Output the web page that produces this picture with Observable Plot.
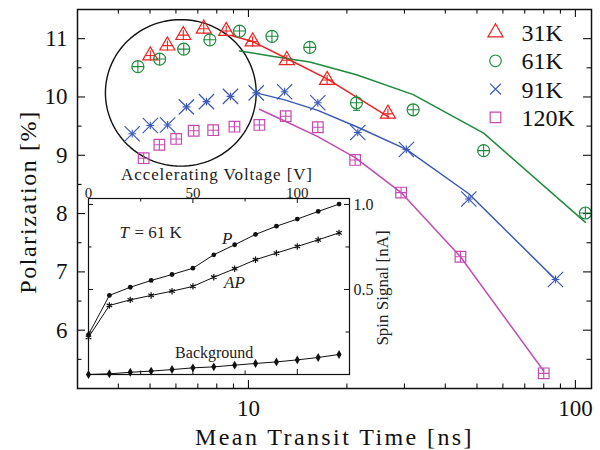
<!DOCTYPE html>
<html><head><meta charset="utf-8">
<script src="https://cdn.jsdelivr.net/npm/d3@7"></script>
<script src="https://cdn.jsdelivr.net/npm/@observablehq/plot@0.6"></script>
<style>
body{margin:0;background:#fff;}
#wrap{position:relative;width:600px;height:450px;overflow:hidden;}
#wrap svg{position:absolute;overflow:visible;}
#wrap svg text{font-family:"Liberation Serif","Times New Roman",serif !important;}
</style></head><body><div id="wrap"></div>
<script>
// ---------- main chart data (Mean Transit Time [ns] vs Polarization [%]) ----------
const labels = ["31K", "61K", "91K", "120K"];

const t31 = [5.01, 5.65, 6.32, 7.30, 8.55, 10.3, 13.1, 17.4, 26.7];
const p31 = [10.71, 10.88, 11.06, 11.17, 11.13, 10.95, 10.63, 10.29, 9.71];
const fitT31 = [8.9, 10.3, 13.1, 17.4, 26.8];
const fitP31 = [11.05, 10.95, 10.66, 10.31, 9.66];

const t61 = [4.59, 5.35, 6.34, 7.62, 9.39, 11.8, 15.4, 21.4, 31.9, 52.4, 107.3];
const p61 = [10.52, 10.65, 10.82, 10.98, 11.13, 11.04, 10.85, 9.90, 9.78, 9.08, 8.01];
const fitT61 = [9.39, 11.8, 15.4, 21.4, 31.9, 52.4, 107.3];
const fitP61 = [10.79, 10.70, 10.60, 10.38, 10.04, 9.38, 7.85];
const err61 = [{t: 21.4, lo: 9.77, hi: 10.03}];

const t91 = [4.41, 5.01, 5.66, 6.46, 7.44, 8.81, 10.56, 12.9, 16.3, 21.6, 30.4, 47.2, 86.9];
const p91 = [9.37, 9.51, 9.52, 9.83, 9.92, 10.01, 10.07, 10.09, 9.90, 9.39, 9.10, 8.25, 6.87];
const fitT91 = [10.56, 12.9, 16.3, 21.6, 30.4, 47.2, 86.9];
const fitP91 = [10.07, 9.95, 9.77, 9.48, 9.10, 8.34, 6.87];

const t120 = [4.78, 5.34, 6.01, 6.80, 7.80, 9.06, 10.8, 13.0, 16.3, 21.2, 29.3, 44.5, 80.0];
const p120 = [8.95, 9.18, 9.28, 9.42, 9.43, 9.49, 9.52, 9.67, 9.48, 8.92, 8.36, 7.26, 5.26];
const fitT120 = [10.8, 13.0, 16.3, 21.2, 29.3, 44.5, 80.0];
const fitP120 = [9.79, 9.58, 9.32, 8.96, 8.36, 7.26, 5.30];

const xTickLabels = [10, 100];
const xMinorTicks = [4, 5, 6, 7, 8, 9, 20, 30, 40, 50, 60, 70, 80, 90];
const yTickLabels = [6, 7, 8, 9, 10, 11];
const yMinorTicks = [5.5, 6.5, 7.5, 8.5, 9.5, 10.5];

// circled region annotation (centre in data units, radii in decades / %)
const circleNote = {cx: 6.21, cy: 10.07, rxDecades: 0.2306, ry: 1.257};

// ---------- inset data (Accelerating Voltage [V] vs Spin Signal [nA]) ----------
const voltage = [0, 10, 20, 30, 40, 50, 60, 70, 80, 90, 100, 110, 120];
const spinP  = [0.235, 0.465, 0.513, 0.553, 0.588, 0.625, 0.704, 0.763, 0.824, 0.872, 0.914, 0.959, 1.002];
const spinAP = [0.219, 0.406, 0.439, 0.465, 0.490, 0.518, 0.572, 0.622, 0.675, 0.714, 0.753, 0.792, 0.833];
const spinBg = [0.000, 0.004, 0.013, 0.020, 0.029, 0.039, 0.045, 0.055, 0.065, 0.074, 0.086, 0.100, 0.118];
const insetXTicks = [0, 50, 100];
const insetXMinor = [25, 75, 125];
const insetYTicks = [0.5, 1.0];
const insetYMinor = [0.25, 0.75];

// ---------- styles ----------
const FONT = "Liberation Serif";
const colors = ["#ee2222", "#1f8a3c", "#3a58bb", "#c44bb2"];
const W = 600, H = 450, mL = 77, mR = 9, mT = 9, mB = 62;
const fw = W - mL - mR, fh = H - mT - mB;

const rows = (T, P) => T.map((t, i) => ({t, p: P[i]}));
const series = [
  {T: t31, P: p31, fT: fitT31, fP: fitP31, sym: "triangle", r: 5.6, plus: 3.4, legR: 5.6},
  {T: t61, P: p61, fT: fitT61, fP: fitP61, sym: "circle", r: 6, plus: 3.9, legR: 5.8},
  {T: t91, P: p91, fT: fitT91, fP: fitP91, sym: "times", r: 7, plus: 2.6, legR: 5},
  {T: t120, P: p120, fT: fitT120, fP: fitP120, sym: "square", r: 6, plus: 3.5, legR: 6}
];

const ellipsePts = d3.range(0, 361, 3).map(a => {
  const th = a * Math.PI / 180;
  return {t: Math.pow(10, Math.log10(circleNote.cx) + circleNote.rxDecades * Math.cos(th)),
          p: circleNote.cy + circleNote.ry * Math.sin(th)};
});

const tickMarksX = (vals, len) => [
  Plot.ruleX(vals, {x: d => d, insetTop: fh - len, stroke: "#111", strokeWidth: 1.1}),
  Plot.ruleX(vals, {x: d => d, insetBottom: fh - len, stroke: "#111", strokeWidth: 1.1})
];
const tickMarksY = (vals, len) => [
  Plot.ruleY(vals, {y: d => d, insetRight: fw - len, stroke: "#111", strokeWidth: 1.1}),
  Plot.ruleY(vals, {y: d => d, insetLeft: fw - len, stroke: "#111", strokeWidth: 1.1})
];
const T = (extra) => ({fontFamily: FONT, fill: "#111", lineAnchor: "middle", ...extra});

const marks = [
  ...tickMarksX(xTickLabels, 8), ...tickMarksX(xMinorTicks, 4.5),
  ...tickMarksY(yTickLabels, 8), ...tickMarksY(yMinorTicks, 4.5),
  Plot.line(ellipsePts, {x: "t", y: "p", stroke: "#111", strokeWidth: 1.4})
];
series.forEach((s, i) => {
  marks.push(Plot.line(rows(s.fT, s.fP), {x: "t", y: "p", stroke: colors[i], strokeWidth: 1.5}));
});
marks.push(Plot.ruleX(err61, {x: "t", y1: "lo", y2: "hi", stroke: colors[1], strokeWidth: 1.1}));
marks.push(Plot.link(err61, {x1: d => d.t / 1.025, x2: d => d.t * 1.025, y1: "lo", y2: "lo", stroke: colors[1], strokeWidth: 1.1}));
series.forEach((s, i) => {
  const data = rows(s.T, s.P);
  marks.push(Plot.dot(data, {x: "t", y: "p", symbol: s.sym, r: s.r, stroke: colors[i], fill: "none", strokeWidth: 1.2}));
  marks.push(Plot.dot(data, {x: "t", y: "p", symbol: "plus", r: s.plus, stroke: colors[i], fill: "none", strokeWidth: 1.1}));
  // legend
  const dy = 23 + i * 28.3;
  marks.push(Plot.dot([labels[i]], {frameAnchor: "top-left", dx: 418, dy, symbol: s.sym, r: s.legR, stroke: colors[i], fill: "none", strokeWidth: 1.2}));
  marks.push(Plot.text([labels[i]], T({frameAnchor: "top-left", dx: 444, dy: dy + 1, text: d => d, textAnchor: "start", fontSize: 24})));
});
marks.push(
  Plot.text(xTickLabels, T({x: d => d, frameAnchor: "bottom", dy: 20, text: d => String(d), textAnchor: "middle", fontSize: 23})),
  Plot.text(yTickLabels, T({y: d => d, frameAnchor: "left", dx: -10, text: d => String(d), textAnchor: "end", fontSize: 23})),
  Plot.text(["Mean Transit Time [ns]"], T({frameAnchor: "bottom", dy: 49, text: d => d, textAnchor: "middle", fontSize: 24})),
  Plot.text(["Polarization [%]"], T({frameAnchor: "left", dx: -49, dy: 3, text: d => d, textAnchor: "middle", rotate: -90, fontSize: 24})),
  Plot.frame({stroke: "#111", strokeWidth: 1.5})
);

const main = Plot.plot({
  width: W, height: H, marginLeft: mL, marginRight: mR, marginTop: mT, marginBottom: mB,
  x: {type: "log", domain: [3, 112], axis: null},
  y: {domain: [5, 11.5], axis: null},
  style: {background: "white"},
  marks
});
main.style.left = "0px"; main.style.top = "0px";
document.getElementById("wrap").appendChild(main);

// ---------- inset ----------
const iL = 10, iR = 60, iT = 50, iB = 10, ifw = 261, ifh = 176;
const insetRows = ys => voltage.map((v, i) => ({v, s: ys[i]}));
const iTickX = (vals, len) => [
  Plot.ruleX(vals, {x: d => d, insetTop: ifh - len, stroke: "#111", strokeWidth: 1}),
  Plot.ruleX(vals, {x: d => d, insetBottom: ifh - len, stroke: "#111", strokeWidth: 1})
];
const iTickY = (vals, len) => [
  Plot.ruleY(vals, {y: d => d, insetRight: ifw - len, stroke: "#111", strokeWidth: 1}),
  Plot.ruleY(vals, {y: d => d, insetLeft: ifw - len, stroke: "#111", strokeWidth: 1})
];
const IT = (extra) => ({fontFamily: FONT, fill: "#222", lineAnchor: "middle", ...extra});
const inset = Plot.plot({
  width: iL + ifw + iR, height: iT + ifh + iB,
  marginLeft: iL, marginRight: iR, marginTop: iT, marginBottom: iB,
  x: {domain: [0, 125], axis: null},
  y: {domain: [0, 1.035], axis: null},
  style: {background: "transparent"},
  marks: [
    Plot.frame({fill: "white", stroke: "none"}),
    ...iTickX(insetXTicks, 5), ...iTickX(insetXMinor, 3.5),
    ...iTickY(insetYTicks, 5), ...iTickY(insetYMinor, 3.5),
    Plot.line(insetRows(spinP), {x: "v", y: "s", stroke: "#111", strokeWidth: 1}),
    Plot.line(insetRows(spinAP), {x: "v", y: "s", stroke: "#111", strokeWidth: 1}),
    Plot.line(insetRows(spinBg), {x: "v", y: "s", stroke: "#111", strokeWidth: 1}),
    Plot.dot(insetRows(spinP), {x: "v", y: "s", r: 2.4, fill: "#111", symbol: "circle"}),
    Plot.dot(insetRows(spinAP), {x: "v", y: "s", r: 3, stroke: "#111", symbol: "asterisk", strokeWidth: 1.2}),
    Plot.dot(insetRows(spinBg), {x: "v", y: "s", r: 2.7, fill: "#111", symbol: "diamond"}),
    Plot.text(insetXTicks, IT({x: d => d, frameAnchor: "top", dy: -5.5, text: d => String(d), textAnchor: "middle", fontSize: 15})),
    Plot.text(insetYTicks, IT({y: d => d, frameAnchor: "right", dx: 4, text: d => d.toFixed(1), textAnchor: "start", fontSize: 16})),
    Plot.text(["Accelerating Voltage [V]"], IT({frameAnchor: "top", dx: -2, dy: -24, text: d => d, textAnchor: "middle", fontSize: 17})),
    Plot.text(["Spin Signal [nA]"], IT({frameAnchor: "right", dx: 33, dy: 1.5, text: d => d, textAnchor: "middle", rotate: -90, fontSize: 17})),
    Plot.text(["T"], IT({x: () => 14.85, y: () => 0.837, text: d => d, textAnchor: "start", fontStyle: "italic", fontSize: 17})),
    Plot.text(["= 61 K"], IT({x: () => 22.0, y: () => 0.837, text: d => d, textAnchor: "start", fontSize: 17})),
    Plot.text(["P"], IT({x: () => 66.4, y: () => 0.798, text: d => d, textAnchor: "middle", fontStyle: "italic", fontSize: 17})),
    Plot.text(["AP"], IT({x: () => 69.9, y: () => 0.543, text: d => d, textAnchor: "middle", fontStyle: "italic", fontSize: 17})),
    Plot.text(["Background"], IT({x: () => 60.2, y: () => 0.129, text: d => d, textAnchor: "middle", fontSize: 16})),
    Plot.frame({stroke: "#111", strokeWidth: 1.2})
  ]
});
inset.style.left = (88 - iL) + "px"; inset.style.top = (198 - iT) + "px";
document.getElementById("wrap").appendChild(inset);

// letter spacing to approximate the wider original typeface in titles
d3.select(main).selectAll("text").filter(function () { return this.textContent === "Mean Transit Time [ns]"; })
  .attr("letter-spacing", "2.4");
d3.select(main).selectAll("text").filter(function () { return this.textContent === "Polarization [%]"; })
  .attr("letter-spacing", "1.6");
d3.select(inset).selectAll("text").filter(function () { return this.textContent === "Accelerating Voltage [V]"; })
  .attr("letter-spacing", "0.9");
</script></body></html>
